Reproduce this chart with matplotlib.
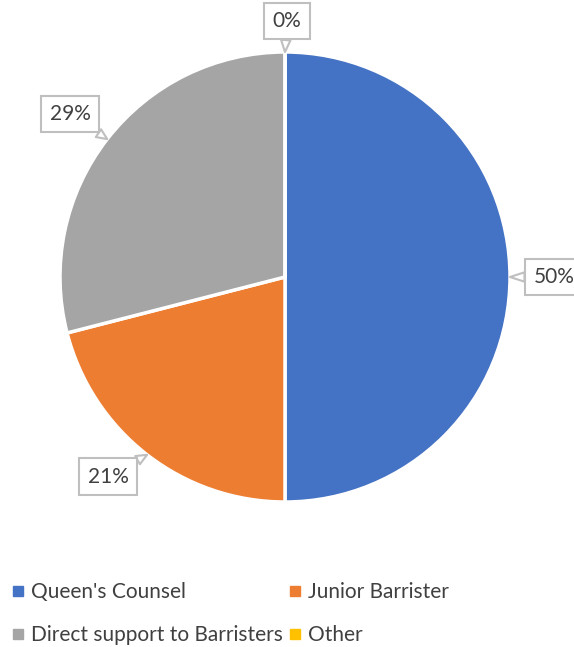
import numpy as np
import matplotlib
matplotlib.use('Agg')
import matplotlib.pyplot as plt
from matplotlib.lines import Line2D

# Chart data
categories = ["Queen's Counsel", "Junior Barrister", "Direct support to Barristers", "Other"]
values = [50, 21, 29, 0]
colors = ['#4472C4', '#ED7D31', '#A5A5A5', '#FFC000']
# label box offsets from the wedge edge (pixels, y up)
label_offsets = [(44, 0), (-39, -22), (-37, 25), (2, 31)]

W, H = 574, 647
plt.rcParams['font.family'] = ['Lato', 'DejaVu Sans']

fig = plt.figure(figsize=(W / 100, H / 100), dpi=100)
ax = fig.add_axes([0, 0, 1, 1])

cx, cy, r = 285, H - 277, 225
wedges, _ = ax.pie(values, colors=colors, startangle=90, counterclock=False,
                   center=(cx, cy), radius=r, frame=True,
                   wedgeprops=dict(edgecolor='white', linewidth=2.5))
ax.set_xlim(0, W)
ax.set_ylim(0, H)
ax.set_aspect('equal')
ax.axis('off')

total = sum(values)
for w, v, off in zip(wedges, values, label_offsets):
    mid = np.deg2rad((w.theta1 + w.theta2) / 2)
    px, py = cx + r * np.cos(mid), cy + r * np.sin(mid)
    ax.annotate(f'{v / total * 100:.0f}%', xy=(px, py),
                xytext=(px + off[0], py + off[1]), textcoords='data',
                ha='center', va='center', fontsize=15, color='#404040',
                bbox=dict(boxstyle='square,pad=0.4', fc='white', ec='#BFBFBF', lw=1.5),
                arrowprops=dict(arrowstyle='wedge,tail_width=0.45', fc='white',
                                ec='#BFBFBF', lw=1.5, shrinkA=0, shrinkB=0))

# legend fills row-wise in the reference: reorder for column-first filling
order = [0, 2, 1, 3]
handles = [Line2D([], [], marker='s', linestyle='none', markersize=7,
                  markerfacecolor=colors[i], markeredgecolor=colors[i]) for i in order]
fig.legend(handles, [categories[i] for i in order], loc='lower left',
           bbox_to_anchor=(0.0, -0.016), ncol=2, frameon=False, fontsize=15,
           labelcolor='#404040', handlelength=0.5, handletextpad=0.4,
           columnspacing=0.3, labelspacing=1.1, borderaxespad=0.2)

fig.savefig('out.png', dpi=100)
